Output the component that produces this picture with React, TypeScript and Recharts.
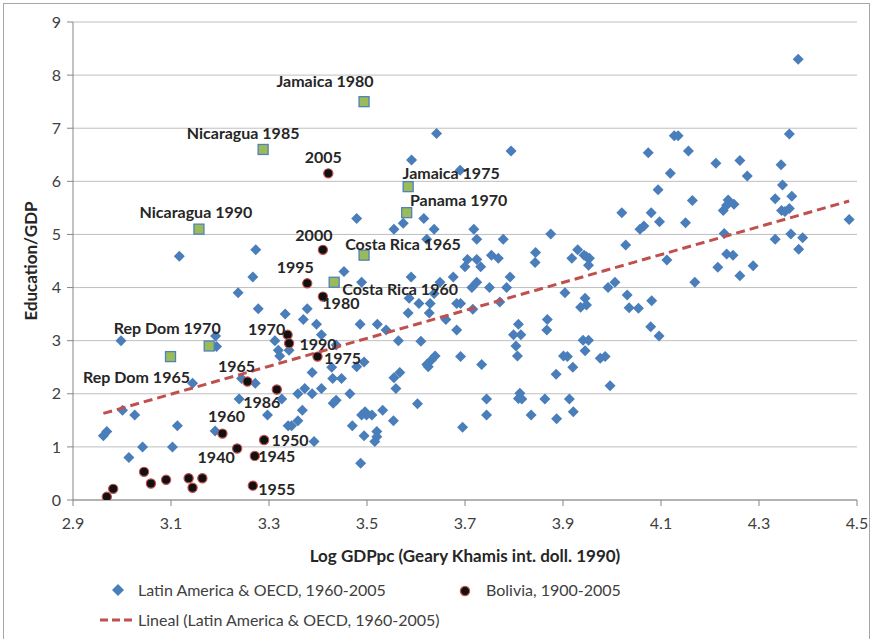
import { ScatterChart, Scatter, XAxis, YAxis, CartesianGrid, Label } from 'recharts';

// Latin America & OECD, 1960-2005: [log GDPpc, education/GDP]
const oecdPoints: [number, number][] = [
  [3.479, 5.30], [3.117, 4.59], [3.273, 4.71], [3.642, 6.90], [3.794, 6.57], [3.591, 6.40],
  [3.690, 6.21], [3.555, 5.10], [3.574, 5.21], [3.616, 5.30], [3.637, 5.10], [3.718, 5.10],
  [3.622, 4.91], [3.724, 4.91], [3.778, 4.91], [3.875, 5.01], [3.844, 4.66], [3.930, 4.71],
  [3.943, 4.61], [3.954, 4.55], [3.754, 4.61], [3.768, 4.55], [3.705, 4.53], [3.724, 4.53],
  [3.918, 4.55], [3.453, 4.30], [3.489, 4.10], [3.590, 4.20], [3.586, 3.80], [3.606, 3.70],
  [3.629, 3.70], [3.637, 3.89], [3.649, 4.10], [3.676, 4.20], [3.584, 3.52], [3.627, 3.52],
  [3.661, 3.40], [3.683, 3.70], [3.691, 3.70], [3.700, 4.39], [3.732, 4.39], [3.724, 4.10],
  [3.714, 4.00], [3.750, 4.00], [3.792, 4.20], [3.785, 4.00], [3.771, 3.73], [3.716, 3.59],
  [3.486, 3.31], [3.521, 3.31], [3.539, 3.20], [3.564, 3.00], [3.610, 2.99], [3.683, 3.20],
  [3.691, 2.70], [3.734, 2.55], [3.625, 2.51], [3.632, 2.64], [3.639, 2.71], [3.622, 2.55],
  [3.428, 2.50], [3.479, 2.51], [3.494, 2.60], [3.430, 2.29], [3.448, 2.29], [3.465, 2.00],
  [3.431, 1.82], [3.437, 1.88], [3.555, 2.30], [3.567, 2.40], [3.559, 2.10], [3.603, 1.81],
  [3.532, 1.69], [3.554, 1.49], [3.510, 1.60], [3.489, 1.60], [3.496, 1.66], [3.499, 1.60],
  [3.470, 1.40], [3.494, 1.21], [3.520, 1.29], [3.516, 1.10], [3.520, 1.19], [3.487, 0.69],
  [3.695, 1.37], [3.744, 1.90], [3.744, 1.60], [3.809, 3.31], [3.799, 3.11], [3.814, 3.11],
  [3.804, 2.90], [3.807, 2.71], [3.812, 2.01], [3.809, 1.91], [3.816, 1.90], [3.835, 1.60],
  [3.863, 1.90], [3.887, 1.53], [3.867, 3.20], [3.868, 3.40], [3.886, 2.37], [3.901, 2.71],
  [3.909, 2.70], [3.920, 2.50], [3.913, 1.90], [3.921, 1.66], [3.904, 3.90], [3.936, 3.63],
  [3.948, 3.67], [3.945, 3.80], [3.941, 3.01], [3.952, 3.01], [3.945, 2.81], [3.976, 2.67],
  [3.986, 2.70], [3.992, 4.00], [3.996, 2.15], [3.843, 4.47], [3.948, 4.58], [3.952, 4.42],
  [3.267, 4.20], [3.237, 3.90], [3.278, 3.60], [3.333, 3.50], [3.378, 3.60], [3.370, 3.40],
  [3.397, 3.31], [3.407, 3.11], [3.437, 2.92], [3.312, 3.00], [3.319, 2.82], [3.322, 2.71],
  [3.341, 2.82], [3.388, 2.40], [3.373, 2.10], [3.407, 2.10], [3.388, 2.00], [3.359, 2.00],
  [3.326, 1.90], [3.244, 2.29], [3.272, 2.20], [3.239, 1.90], [3.297, 1.60], [3.368, 1.69],
  [3.359, 1.49], [3.339, 1.40], [3.346, 1.40], [3.392, 1.10], [3.191, 3.09], [3.193, 2.89],
  [2.998, 3.00], [3.144, 2.20], [3.001, 1.69], [3.026, 1.60], [2.962, 1.21], [2.969, 1.29],
  [3.014, 0.80], [3.042, 1.00], [3.103, 1.00], [3.113, 1.40], [3.190, 1.30],
  [4.380, 8.30], [4.127, 6.86], [4.135, 6.86], [4.362, 6.89], [4.074, 6.54], [4.156, 6.57],
  [4.212, 6.34], [4.261, 6.39], [4.276, 6.10], [4.345, 6.31], [4.119, 6.15], [4.094, 5.84],
  [4.348, 5.93], [4.367, 5.72], [4.333, 5.67], [4.164, 5.64], [4.237, 5.65], [4.227, 5.45],
  [4.249, 5.57], [4.234, 5.55], [4.346, 5.45], [4.353, 5.43], [4.362, 5.49], [4.020, 5.41],
  [4.080, 5.41], [4.097, 5.24], [4.057, 5.10], [4.065, 5.16], [4.150, 5.22], [4.484, 5.28],
  [4.028, 4.80], [4.229, 5.02], [4.333, 4.91], [4.365, 5.01], [4.389, 4.94], [4.381, 4.72],
  [4.234, 4.63], [4.247, 4.61], [4.112, 4.52], [4.216, 4.38], [4.261, 4.22], [4.288, 4.41],
  [4.169, 4.10], [4.006, 4.10], [4.031, 3.86], [4.035, 3.62], [4.054, 3.61], [4.081, 3.75],
  [4.079, 3.26], [4.096, 3.09],
];

// Bolivia, 1900-2005 (year label where shown)
const boliviaX = [2.969, 2.982, 3.045, 3.059, 3.090, 3.136, 3.144, 3.164, 3.235, 3.271, 3.290,
  3.267, 3.205, 3.256, 3.338, 3.399, 3.410, 3.316, 3.341, 3.378, 3.410, 3.421];
const boliviaY = [0.06, 0.21, 0.53, 0.31, 0.38, 0.41, 0.23, 0.41, 0.97, 0.83, 1.13,
  0.27, 1.25, 2.23, 3.11, 2.70, 3.83, 2.08, 2.95, 4.08, 4.71, 6.15];
const boliviaYears = ['', '', '', '', '', '', '', '', '1940', '1945', '1950',
  '1955', '1960', '1965', '1970', '1975', '1980', '1986', '1990', '1995', '2000', '2005'];

// highlighted country-years
const highlightNames = ['Jamaica 1980', 'Nicaragua 1985', 'Nicaragua 1990', 'Jamaica 1975', 'Panama 1970',
  'Costa Rica 1965', 'Costa Rica 1960', 'Rep Dom 1970', 'Rep Dom 1965'];
const highlightX = [3.494, 3.288, 3.157, 3.584, 3.581, 3.494, 3.433, 3.178, 3.099];
const highlightY = [7.50, 6.60, 5.10, 5.90, 5.41, 4.61, 4.10, 2.90, 2.70];

// linear trend (Lineal) end points
const trendX = [2.962, 4.484];
const trendY = [1.63, 5.63];

const xTicks = [2.9, 3.1, 3.3, 3.5, 3.7, 3.9, 4.1, 4.3, 4.5];
const yTicks = [0, 1, 2, 3, 4, 5, 6, 7, 8, 9];

// label placement relative to the marker (px)
const labelOffsets: Record<string, [number, number]> = {
  'Jamaica 1980': [-39, -21], 'Nicaragua 1985': [-20, -17], 'Nicaragua 1990': [-3, -18],
  'Jamaica 1975': [43, -14], 'Panama 1970': [52, -13], 'Costa Rica 1965': [39, -12],
  'Costa Rica 1960': [66, 6], 'Rep Dom 1970': [-42, -18], 'Rep Dom 1965': [-34, 20],
  '2005': [-5, -17], '2000': [-9, -15], '1995': [-12, -17], '1980': [18, 6], '1970': [-21, -6],
  '1990': [29, 0], '1975': [25, 1], '1965': [-11, -16], '1986': [-15, 12], '1960': [4, -18],
  '1950': [26, 0], '1940': [-21, 8], '1945': [22, 0], '1955': [24, 3],
};

const FONT = 'Lato, "Open Sans", sans-serif';
const BLUE = '#4A7EBB';
const RED = '#C0504D';
const GREEN = '#9BBB59';

const oecdData = oecdPoints.map(([x, y]) => ({ x, y }));
const boliviaData = boliviaX.map((x, i) => ({ x, y: boliviaY[i], label: boliviaYears[i] }));
const highlightData = highlightX.map((x, i) => ({ x, y: highlightY[i], label: highlightNames[i] }));
const trendData = trendX.map((x, i) => ({ x, y: trendY[i] }));

const PointLabel = ({ cx, cy, label }: any) => {
  if (!label) return null;
  const [dx, dy] = labelOffsets[label] || [0, -16];
  return (
    <text x={cx + dx} y={cy + dy} textAnchor="middle" dominantBaseline="central"
      fontFamily={FONT} fontWeight="bold" fontSize={16} fill="#262626">
      {label}
    </text>
  );
};

const Diamond = ({ cx, cy }: any) => (
  <polygon points={`${cx},${cy - 5.5} ${cx + 5.5},${cy} ${cx},${cy + 5.5} ${cx - 5.5},${cy}`} fill={BLUE} />
);

const BoliviaDot = ({ cx, cy, payload }: any) => (
  <g>
    <circle cx={cx} cy={cy} r={4.6} fill="#111" stroke={RED} strokeWidth={1.2} />
    <PointLabel cx={cx} cy={cy} label={payload.label} />
  </g>
);

const Square = ({ cx, cy, payload }: any) => (
  <g>
    <rect x={cx - 5} y={cy - 5} width={10} height={10} fill={GREEN} stroke="#4F81BD" strokeWidth={1.3} />
    <PointLabel cx={cx} cy={cy} label={payload.label} />
  </g>
);

const legendText = { fontFamily: FONT, fontSize: 16, color: '#404040', position: 'absolute' as const, lineHeight: '20px' };

export default function App() {
  return (
    <div style={{ position: 'absolute', left: 0, top: 0, width: 878, height: 639, overflow: 'hidden', background: '#fff' }}>
      <div style={{ position: 'absolute', left: 3, top: 3, width: 865, height: 700, border: '1px solid #A6A6A6' }} />
      <ScatterChart width={878} height={639} margin={{ top: 22, right: 21, bottom: 78, left: 23 }}
        style={{ position: 'absolute', left: 0, top: 0 }}>
        <CartesianGrid vertical={false} stroke="#BFBFBF" strokeWidth={1} />
        <XAxis type="number" dataKey="x" domain={[2.9, 4.5]} ticks={xTicks} allowDataOverflow
          tickFormatter={(v) => v.toFixed(1)} height={61} stroke="#868686" tickSize={6} tickMargin={12}
          tick={{ fill: '#404040', fontSize: 16, fontFamily: FONT }}>
          <Label value="Log GDPpc (Geary Khamis int. doll. 1990)" position="insideBottom" offset={-1}
            style={{ fontFamily: FONT, fontSize: 17, fontWeight: 'bold', fill: '#262626' }} />
        </XAxis>
        <YAxis type="number" dataKey="y" domain={[0, 9]} ticks={yTicks} allowDataOverflow
          width={50} stroke="#868686" tickSize={6} tickMargin={6}
          tick={{ fill: '#404040', fontSize: 16, fontFamily: FONT }}>
          <Label value="Education/GDP" angle={-90} position="insideLeft" offset={8}
            style={{ fontFamily: FONT, fontSize: 17, fontWeight: 'bold', fill: '#262626', textAnchor: 'middle' }} />
        </YAxis>
        <Scatter data={oecdData} shape={<Diamond />} isAnimationActive={false} />
        <Scatter data={trendData} line={{ stroke: RED, strokeWidth: 3, strokeDasharray: '9 5' }}
          shape={() => <g />} isAnimationActive={false} />
        <Scatter data={boliviaData} shape={<BoliviaDot />} isAnimationActive={false} />
        <Scatter data={highlightData} shape={<Square />} isAnimationActive={false} />
      </ScatterChart>
      <svg style={{ position: 'absolute', left: 110, top: 582 }} width={16} height={16}>
        <polygon points="8,2 14,8 8,14 2,8" fill={BLUE} />
      </svg>
      <div style={{ ...legendText, left: 138, top: 580 }}>Latin America &amp; OECD, 1960-2005</div>
      <svg style={{ position: 'absolute', left: 457, top: 583 }} width={16} height={16}>
        <circle cx={8} cy={8} r={4.6} fill="#111" stroke={RED} strokeWidth={1.2} />
      </svg>
      <div style={{ ...legendText, left: 486, top: 580 }}>Bolivia, 1900-2005</div>
      <svg style={{ position: 'absolute', left: 98, top: 614 }} width={40} height={12}>
        <line x1={2} y1={6} x2={38} y2={6} stroke={RED} strokeWidth={3} strokeDasharray="8 4" />
      </svg>
      <div style={{ ...legendText, left: 138, top: 610 }}>Lineal (Latin America &amp; OECD, 1960-2005)</div>
    </div>
  );
}
